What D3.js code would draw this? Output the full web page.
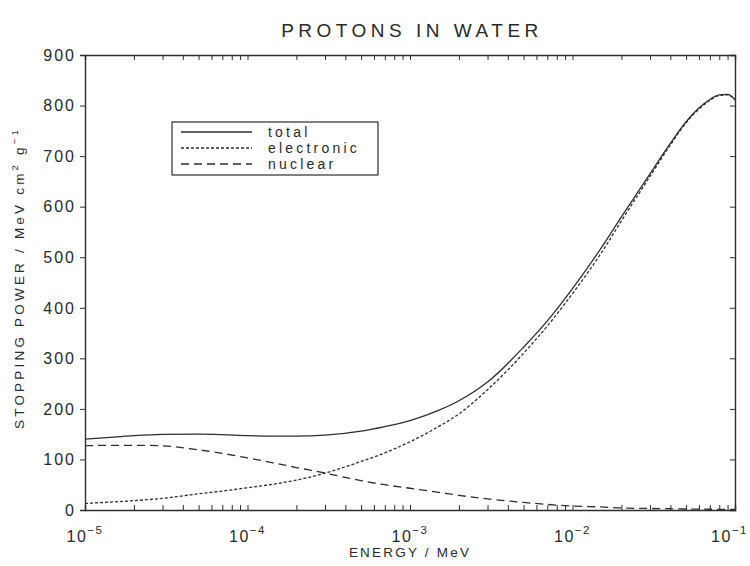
<!DOCTYPE html>
<html>
<head>
<meta charset="utf-8">
<script src="https://cdn.jsdelivr.net/npm/d3@7"></script>
<style>
  body { margin: 0; background: #fff; }
  text { font-family: "Liberation Sans", Arial, sans-serif; fill: #2a2a2a; }
</style>
</head>
<body>
<div id="chart-area"></div>
<script>
// energies (MeV)
let energy = [1e-5, 1.5e-5, 2e-5, 3e-5, 5e-5, 7e-5, 1e-4, 1.5e-4, 2e-4, 3e-4, 5e-4, 7e-4,
    1e-3, 1.5e-3, 2e-3, 3e-3, 5e-3, 7e-3, 1e-2, 1.5e-2, 2e-2, 3e-2, 4e-2, 5e-2, 6e-2, 7e-2, 8e-2, 9e-2, 1e-1];

// stopping power, MeV cm2 g-1
let total = [140, 144, 147, 149.5, 150, 149, 147, 146, 146, 148, 156, 165,
    177, 197, 216, 253, 322, 374, 438, 518, 580, 665, 725, 768, 795, 812, 821, 822, 812];
let electronic = [13, 16, 18.5, 23, 32, 37.5, 44, 52, 59, 73, 96, 113,
    135, 165, 190, 238, 310, 364, 428, 508, 572, 660, 722, 766, 793, 810, 820, 821, 811];
let nuclear = [127, 128, 128, 127, 119, 112, 103, 92, 84, 73, 58, 50,
    43, 35, 29, 22, 15, 11, 8, 6, 4, 3, 2.5, 2, 1.8, 1.5, 1.3, 1.2, 1];

let xDecades = [-5, -4, -3, -2, -1];
let yTicks = [0, 100, 200, 300, 400, 500, 600, 700, 800, 900];
let seriesNames = ["total", "electronic", "nuclear"];
let seriesDash = [null, "3,2", "8,5"];

// define margins
let margin = {top: 55, right: 15, bottom: 56, left: 85};
let width = 750 - margin.left - margin.right,
    height = 566 - margin.top - margin.bottom;

let svg = d3.select("#chart-area")
    .append("svg")
    .attr("width", 750)
    .attr("height", 566);

let g = svg.append("g")
    .attr("transform", "translate(" + margin.left + "," + margin.top + ")");

let x = d3.scaleLog().domain([1e-5, 1e-1]).range([0, width]);
let y = d3.scaleLinear().domain([0, 900]).range([height, 0]);

let ink = "#2e2e2e";

// minor ticks 2..9 per decade
let minor = [];
xDecades.slice(0, -1).forEach(d => {
    for (let k = 1; k <= 9; k++) minor.push(k * Math.pow(10, d));
});
minor.push(1e-1);

// bottom + top axes, ticks pointing in
let xBottom = g.append("g")
    .attr("transform", "translate(0," + height + ")")
    .call(d3.axisBottom(x).tickValues(minor).tickSize(-5).tickFormat(""));
let xTop = g.append("g")
    .call(d3.axisTop(x).tickValues(minor).tickSize(-5).tickFormat(""));
// left axis ticks out, right axis ticks in
let yLeft = g.append("g")
    .call(d3.axisLeft(y).tickValues(yTicks).tickSize(5).tickFormat(""));
let yRight = g.append("g")
    .attr("transform", "translate(" + width + ",0)")
    .call(d3.axisRight(y).tickValues(yTicks).tickSize(-5).tickFormat(""));

[xBottom, xTop, yLeft, yRight].forEach(a => {
    a.selectAll("path").attr("stroke", ink).attr("stroke-width", 1.4);
    a.selectAll("line").attr("stroke", ink).attr("stroke-width", 1);
});

// y tick labels
g.selectAll(".ylab")
    .data(yTicks)
    .enter().append("text")
    .attr("class", "ylab")
    .attr("x", -9)
    .attr("y", d => y(d))
    .attr("dy", "0.36em")
    .attr("text-anchor", "end")
    .style("font-size", "16px")
    .style("letter-spacing", "2px")
    .text(d => d);

// x tick labels 10^n (last one pulled in so it stays on the page)
let last = xDecades[xDecades.length - 1];
let xl = g.selectAll(".xlab")
    .data(xDecades)
    .enter().append("text")
    .attr("class", "xlab")
    .attr("x", d => d == last ? width + 13 : x(Math.pow(10, d)))
    .attr("y", height + 32)
    .attr("text-anchor", d => d == last ? "end" : "middle")
    .style("font-size", "16px")
    .style("letter-spacing", "1.5px");
xl.append("tspan").text("10");
xl.append("tspan").attr("dy", -8).style("font-size", "11.5px").text(d => "\u2212" + (-d));

// lines
let line = d3.line()
    .x(d => x(d[0]))
    .y(d => y(d[1]))
    .curve(d3.curveMonotoneX);

[total, electronic, nuclear].forEach((vals, i) => {
    g.append("path")
        .datum(energy.map((e, j) => [e, vals[j]]))
        .attr("fill", "none")
        .attr("stroke", ink)
        .attr("stroke-width", 1.3)
        .attr("stroke-dasharray", seriesDash[i])
        .attr("d", line);
});

// legend
let legend = svg.append("g").attr("transform", "translate(172,122)");
legend.append("rect")
    .attr("width", 206).attr("height", 53)
    .attr("fill", "#fff").attr("stroke", ink).attr("stroke-width", 1.2);
seriesNames.forEach((name, i) => {
    legend.append("line")
        .attr("x1", 9).attr("x2", 80)
        .attr("y1", 10 + i * 16).attr("y2", 10 + i * 16)
        .attr("stroke", ink).attr("stroke-width", 1.3)
        .attr("stroke-dasharray", seriesDash[i]);
    legend.append("text")
        .attr("x", 96).attr("y", 10 + i * 16)
        .attr("dy", "0.36em")
        .style("font-size", "14px")
        .style("letter-spacing", "3.2px")
        .text(name);
});

// title
svg.append("text")
    .attr("x", 412).attr("y", 37)
    .attr("text-anchor", "middle")
    .style("font-size", "19px")
    .style("letter-spacing", "4.5px")
    .text("PROTONS IN WATER");

// x axis title
svg.append("text")
    .attr("x", 410).attr("y", 557)
    .attr("text-anchor", "middle")
    .style("font-size", "13.5px")
    .style("letter-spacing", "2.2px")
    .text("ENERGY / MeV");

// y axis title
let yt = svg.append("text")
    .attr("transform", "translate(24,278) rotate(-90)")
    .attr("text-anchor", "middle")
    .style("font-size", "13.5px")
    .style("letter-spacing", "3.2px");
yt.append("tspan").text("STOPPING POWER / MeV cm");
yt.append("tspan").attr("dy", -6).style("font-size", "9.5px").text("2");
yt.append("tspan").attr("dy", 6).text(" g");
yt.append("tspan").attr("dy", -6).style("font-size", "9.5px").text("\u22121");
</script>
</body>
</html>
